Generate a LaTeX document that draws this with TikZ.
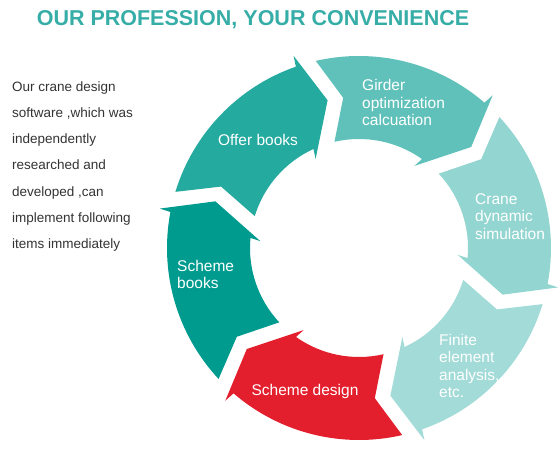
\documentclass[tikz,border=0pt]{standalone}
\usepackage{fontspec}
\setmainfont{Liberation Sans}

\definecolor{titleteal}{HTML}{36ADA7}
\definecolor{offerteal}{HTML}{25AAA0}
\definecolor{girderteal}{HTML}{5FC1BA}
\definecolor{craneteal}{HTML}{93D5D0}
\definecolor{finiteteal}{HTML}{A2DBD7}
\definecolor{designred}{HTML}{E41F2D}
\definecolor{booksteal}{HTML}{009B8F}
\definecolor{introgray}{HTML}{333333}

% one arrow of the ring: #1 = tail angle, #2 = tip angle, #3 = style
\newcommand{\ringpiece}[3]{%
  \fill[#3] (#1:192) arc[start angle=#1, end angle={#2+7.2}, radius=192]
    -- ({#2+6.8}:203) -- (#2:151) -- ({#2+14}:99) -- ({#2+12.7}:109)
    arc[start angle={#2+12.7}, end angle=#1, radius=109]
    -- ({#1-7}:151) -- cycle;}

\begin{document}
\begin{tikzpicture}[x = 1pt, y = 1pt,
    offerpc/.style = {fill = offerteal},
    girderpc/.style = {fill = girderteal},
    cranepc/.style = {fill = craneteal},
    finitepc/.style = {fill = finiteteal},
    designpc/.style = {fill = designred},
    bookspc/.style = {fill = booksteal},
    inlabel/.style = {text = white, align = left, inner sep = 0pt, font = \fontsize{15.5}{17.5}\selectfont},
    ]
    \useasboundingbox (-359,-201) rectangle (201,248);

    \node[text = titleteal, font = \fontsize{21.5}{24}\bfseries] (title) at (-106,228) {OUR PROFESSION, YOUR CONVENIENCE};
    \node[text = introgray, align = left, inner sep = 0pt, anchor = west, font = \fontsize{13.5}{26.2}\selectfont] (intro) at (-347,81.5)
        {Our crane design\\software ,which was\\independently\\researched and\\developed ,can\\implement following\\items immediately};

    \ringpiece{163}{102}{offerpc}
    \ringpiece{103}{42}{girderpc}
    \ringpiece{43}{-18}{cranepc}
    \ringpiece{-17}{-78}{finitepc}
    \ringpiece{-77}{-138}{designpc}
    \ringpiece{-137}{-198}{bookspc}

    \node[inlabel] (offer) at (-101,108) {Offer books};
    \node[inlabel, anchor = west] (girder) at (3,145.5) {Girder\\optimization\\calcuation};
    \node[inlabel, anchor = west] (crane) at (116,31.5) {Crane\\dynamic\\simulation};
    \node[inlabel, anchor = west] (finite) at (80,-118) {Finite\\element\\analysis,\\etc.};
    \node[inlabel] (design) at (-54,-143) {Scheme design};
    \node[inlabel, anchor = west] (books) at (-182,-26.5) {Scheme\\books};
\end{tikzpicture}
\end{document}
